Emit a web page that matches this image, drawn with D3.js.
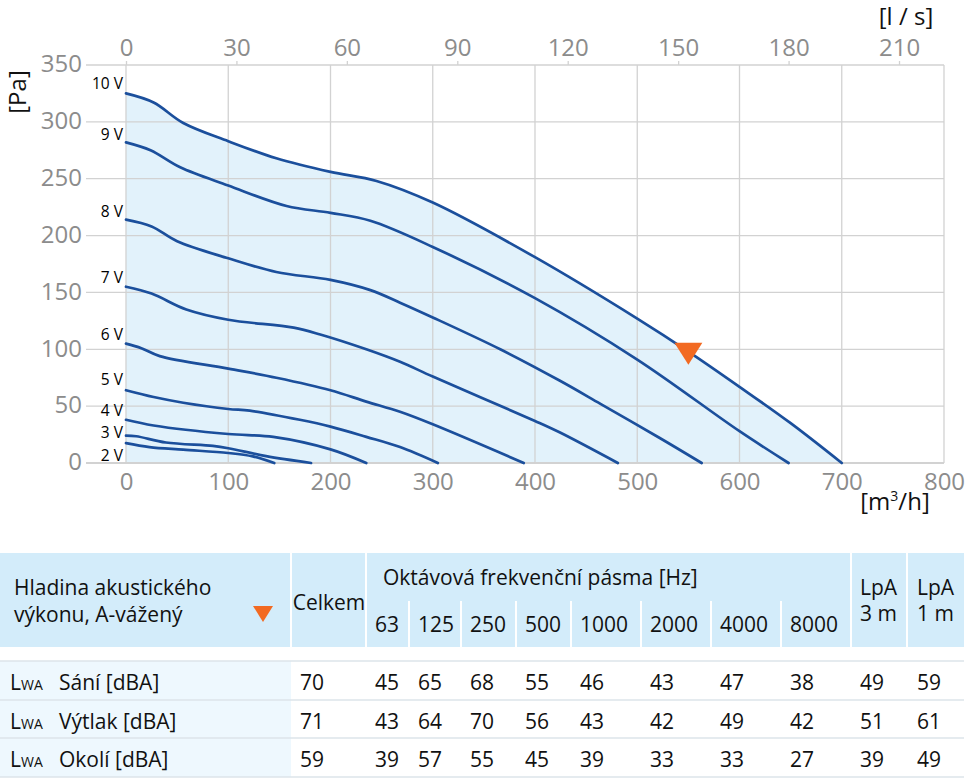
<!DOCTYPE html>
<html>
<head>
<meta charset="utf-8">
<script src="https://cdn.jsdelivr.net/npm/d3@7"></script>
<style>
  html, body { margin: 0; padding: 0; background: #fff; }
  svg { display: block; font-family: "Open Sans", sans-serif; }
</style>
</head>
<body>
<div id="chart"></div>
<script>
// ---------- DATA ----------
const voltages = ["10 V", "9 V", "8 V", "7 V", "6 V", "5 V", "4 V", "3 V", "2 V"];
// label anchor pressure (Pa) for each voltage label
const labelPa = [329, 284, 216, 158, 108, 69, 41, 22, 2];
// curves: [airflow m3/h, pressure Pa]
const curve10 = [[0,325],[27,317],[56,299],[100,283],[147,268],[200,256],[245,248],[300,229],[400,181],[500,127],[550,98],[600,67],[650,35],[700,0]];
const curve9  = [[0,282],[24,275],[53,260],[100,244],[157,226],[200,220],[239,213],[300,190],[400,145],[500,91],[600,28],[648,0]];
const curve8  = [[0,214],[25,208],[50,195],[100,180],[147,168],[200,161],[239,152],[268,141],[300,128],[366,100],[424,72.5],[464,52],[522,22],[563,0]];
const curve7  = [[0,155],[25,149],[59,135],[100,126],[164,119],[190,113],[235,100],[268,89],[300,76],[400,37],[424,27],[481,0]];
const curve6  = [[0,105],[15,101],[33,94],[100,83],[147,75],[200,64],[235,54],[268,45],[300,34],[389,0]];
const curve5  = [[0,64],[27,58],[56,53],[100,47.5],[121,46],[170,38],[200,32],[235,23],[268,14],[305,0]];
const curve4  = [[0,38],[27,33],[100,25.5],[144,23],[200,12],[235,0]];
const curve3  = [[0,24],[10,23.5],[39,18],[85,15],[100,13],[137,6],[181,0]];
const curve2  = [[0,17.5],[23,14],[56,11.7],[100,8.8],[124,5.8],[145,0]];
const curves = [curve10, curve9, curve8, curve7, curve6, curve5, curve4, curve3, curve2];

const xTicks = [0,100,200,300,400,500,600,700,800];
const yTicks = [0,50,100,150,200,250,300,350];
const lpsTicks = [0,30,60,90,120,150,180,210];
const markerPoint = [550, 96];

// table data
const bandLabels = ["63","125","250","500","1000","2000","4000","8000"];
const rowLabels = ["Sání [dBA]", "Výtlak [dBA]", "Okolí [dBA]"];
const totalValues = [70, 71, 59];
const bandValues = [
  [45,65,68,55,46,43,47,38],
  [43,64,70,56,43,42,49,42],
  [39,57,55,45,39,33,33,27]
];
const lpa3m = [49, 51, 39];
const lpa1m = [59, 61, 49];

// ---------- CHART ----------
const W = 966, H = 778;
const svg = d3.select("#chart").append("svg").attr("width", W).attr("height", H);

const x = d3.scaleLinear().domain([0, 800]).range([126, 944]);
const y = d3.scaleLinear().domain([0, 350]).range([463, 65]);
const xl = d3.scaleLinear().domain([0, 800 / 3.6]).range([126, 944]);

const gridColor = "#d2d2d2";
const tickColor = "#8c8c8c";
const lineColor = "#1b4f9c";
const smooth = d3.curveCatmullRom.alpha(0.5);

// area under top curve
svg.append("path")
  .datum(curve10)
  .attr("fill", "#e2f2fb")
  .attr("d", d3.area().x(d => x(d[0])).y0(y(0)).y1(d => y(d[1])).curve(smooth));

// grid
const g = svg.append("g");
g.selectAll("line.h").data(yTicks).join("line")
  .attr("x1", 86).attr("x2", x(800))
  .attr("y1", d => y(d)).attr("y2", d => y(d))
  .attr("stroke", gridColor).attr("stroke-width", d => d === 0 ? 2 : 1.3);
g.selectAll("line.v").data(xTicks).join("line")
  .attr("x1", d => x(d)).attr("x2", d => x(d))
  .attr("y1", y(350)).attr("y2", y(0))
  .attr("stroke", gridColor).attr("stroke-width", 1.3);

// top axis (l/s)
const topAxis = d3.axisTop(xl).tickValues(lpsTicks).tickSize(4).tickPadding(4);
const ta = svg.append("g").attr("transform", `translate(0,${y(350)})`).call(topAxis);
ta.select(".domain").remove();
ta.selectAll(".tick line").attr("stroke", gridColor).attr("stroke-width", 1.3);
ta.selectAll(".tick text").attr("fill", tickColor).attr("font-size", 24).attr("font-family", "Open Sans").attr("dy", "-0.05em");

// bottom axis
const botAxis = d3.axisBottom(x).tickValues(xTicks).tickSize(0).tickPadding(10);
const ba = svg.append("g").attr("transform", `translate(0,${y(0)})`).call(botAxis);
ba.select(".domain").remove();
ba.selectAll(".tick text").attr("fill", tickColor).attr("font-size", 24).attr("font-family", "Open Sans");

// left axis
const leftAxis = d3.axisLeft(y).tickValues(yTicks).tickSize(0).tickPadding(0);
const la = svg.append("g").attr("transform", `translate(82,0)`).call(leftAxis);
la.select(".domain").remove();
la.selectAll(".tick text").attr("fill", tickColor).attr("font-size", 24).attr("font-family", "Open Sans").attr("dy", "0.28em");

// axis titles
svg.append("text").attr("transform", "translate(26,92) rotate(-90)")
  .attr("text-anchor", "middle").attr("font-size", 24).attr("fill", "#111").text("[Pa]");
svg.append("text").attr("x", 906).attr("y", 25)
  .attr("text-anchor", "middle").attr("font-size", 24).attr("fill", "#111").text("[l / s]");
const mt = svg.append("text").attr("x", 895).attr("y", 510)
  .attr("text-anchor", "middle").attr("font-size", 24).attr("fill", "#111");
mt.append("tspan").text("[m");
mt.append("tspan").attr("font-size", 14).attr("dy", -9).text("3");
mt.append("tspan").attr("dy", 9).text("/h]");

// curves
const line = d3.line().x(d => x(d[0])).y(d => y(d[1])).curve(smooth);
svg.append("g").selectAll("path").data(curves).join("path")
  .attr("d", line).attr("fill", "none").attr("stroke", lineColor)
  .attr("stroke-width", 2.7).attr("stroke-linecap", "round");

// voltage labels
svg.append("g").selectAll("text").data(voltages).join("text")
  .attr("x", 123).attr("y", (d, i) => y(labelPa[i]))
  .attr("text-anchor", "end").attr("font-size", 15.5).attr("fill", "#000").text(d => d);

// marker
const mx = x(markerPoint[0]), my = y(markerPoint[1]);
svg.append("path")
  .attr("d", `M${mx - 14},${my - 11}L${mx + 14},${my - 11}L${mx},${my + 11}Z`)
  .attr("fill", "#f26a22");

// ---------- TABLE ----------
const hdrBg = "#d3ecfa";
const leftBg = "#eef8fe";
const sepColor = "#dde4ea";
const colEdges = [0, 291, 366, 409, 461, 516, 571, 641, 711, 781, 851, 907, 964];
const hTop = 553, hBot = 647, subTop = 601;
const t = svg.append("g").attr("font-size", 21).attr("fill", "#111");

t.append("rect").attr("x", 0).attr("y", hTop).attr("width", 964).attr("height", hBot - hTop).attr("fill", hdrBg);
// header white separators (full height)
[291, 366, 851, 907].forEach(xx => {
  t.append("line").attr("x1", xx).attr("x2", xx).attr("y1", hTop).attr("y2", hBot)
    .attr("stroke", "#fff").attr("stroke-width", 2);
});
// sub separators
colEdges.slice(3, 10).forEach(xx => {
  t.append("line").attr("x1", xx).attr("x2", xx).attr("y1", subTop).attr("y2", hBot)
    .attr("stroke", "#fff").attr("stroke-width", 2);
});

// header text
t.append("text").attr("x", 14).attr("y", 595).text("Hladina akustického");
t.append("text").attr("x", 14).attr("y", 622).text("výkonu, A-vážený");
t.append("path").attr("d", "M253,606L273,606L263,622Z").attr("fill", "#f26a22");
t.append("text").attr("x", 329).attr("y", 610).attr("text-anchor", "middle").text("Celkem");
t.append("text").attr("x", 383).attr("y", 585).text("Oktávová frekvenční pásma [Hz]");
t.selectAll("text.band").data(bandLabels).join("text").attr("class", "band")
  .attr("x", (d, i) => colEdges[i + 2] + 9).attr("y", 632).text(d => d);
t.append("text").attr("x", 860).attr("y", 595).text("LpA");
t.append("text").attr("x", 860).attr("y", 621).text("3 m");
t.append("text").attr("x", 917).attr("y", 595).text("LpA");
t.append("text").attr("x", 917).attr("y", 621).text("1 m");

// body
const rowTops = [661, 700, 738, 777];
t.append("rect").attr("x", 0).attr("y", 661).attr("width", 291).attr("height", 116).attr("fill", leftBg);
rowTops.forEach(yy => {
  t.append("line").attr("x1", 0).attr("x2", 964).attr("y1", yy).attr("y2", yy)
    .attr("stroke", sepColor).attr("stroke-width", 1.5);
});
const baselines = [690, 728.5, 767];
rowLabels.forEach((lab, r) => {
  const by = baselines[r];
  const lt = t.append("text").attr("x", 10).attr("y", by);
  lt.append("tspan").text("L");
  lt.append("tspan").attr("font-size", 14).text("WA");
  t.append("text").attr("x", 59).attr("y", by).text(lab);
  t.append("text").attr("x", 300).attr("y", by).text(totalValues[r]);
  bandValues[r].forEach((v, i) => {
    t.append("text").attr("x", colEdges[i + 2] + 9).attr("y", by).text(v);
  });
  t.append("text").attr("x", 860).attr("y", by).text(lpa3m[r]);
  t.append("text").attr("x", 917).attr("y", by).text(lpa1m[r]);
});
</script>
</body>
</html>
